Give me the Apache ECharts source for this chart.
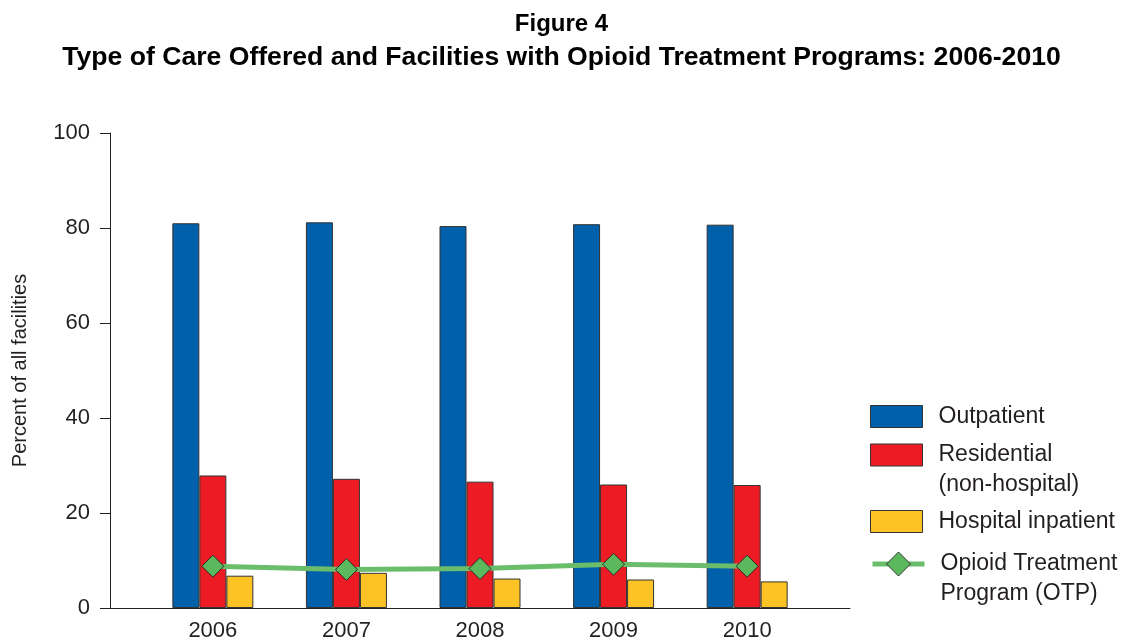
<!DOCTYPE html>
<html>
<head>
<meta charset="utf-8">
<script src="https://cdn.jsdelivr.net/npm/echarts@6/dist/echarts.min.js"></script>
<style>
  html, body { margin: 0; padding: 0; background: #fff; }
  #chart { width: 1123px; height: 642px; }
</style>
</head>
<body>
<div id="chart"></div>
<script>
// values (percent of all facilities)
const years = [2006, 2007, 2008, 2009, 2010];
const outpatient = [81.0, 81.2, 80.4, 80.8, 80.7];
const residential = [27.9, 27.2, 26.6, 26.0, 25.9];
const hospital = [6.8, 7.4, 6.2, 6.0, 5.6];
const otp = [8.8, 8.1, 8.3, 9.2, 8.8];
const yTicks = [0, 20, 40, 60, 80, 100];

const pairs = vals => years.map((y, i) => [y, vals[i]]);

const font = 'Liberation Sans';
const ink = '#231f20';

var chart = echarts.init(document.getElementById('chart'));

// one legend box per entry so the uneven spacing can be matched.
// two-line labels get an empty first line so the icon sits on the first text line
function legendAt(name, top, twoLines, extra) {
  return Object.assign({
    data: [name],
    left: 870,
    top: top,
    padding: 0,
    itemWidth: 52,
    itemHeight: 22,
    icon: 'rect',
    selectedMode: false,
    formatter: function (n) {
      var lines = n.split('\n').map(function (s) { return ' \u2009' + s; });
      return (twoLines ? '\n' : '') + lines.join('\n');
    },
    textStyle: {
      fontFamily: font,
      fontSize: 23,
      color: ink,
      lineHeight: twoLines ? 30 : 23
    },
    itemStyle: { borderColor: '#333', borderWidth: 1 }
  }, extra || {});
}

var option = {
  backgroundColor: '#fff',
  animation: false,
  title: {
    text: '{a|Figure 4}\n{b|Type of Care Offered and Facilities with Opioid Treatment Programs: 2006-2010}',
    left: 'center',
    top: 2,
    textStyle: {
      fontFamily: font,
      fontWeight: 'bold',
      color: '#000',
      align: 'center',
      rich: {
        a: { fontFamily: font, fontSize: 24, fontWeight: 'bold', color: '#000', lineHeight: 34, align: 'center' },
        b: { fontFamily: font, fontSize: 26.6, fontWeight: 'bold', color: '#000', lineHeight: 34, align: 'center' }
      }
    }
  },
  legend: [
    legendAt('Outpatient', 405, false),
    legendAt('Residential\n(non-hospital)', 410, true),
    legendAt('Hospital inpatient', 510, false),
    legendAt('Opioid Treatment\nProgram (OTP)', 519, true, {
      icon: null,
      itemHeight: 30,
      lineStyle: { width: 5, color: '#6abd6a' }
    })
  ],
  grid: { left: 110, right: 273, top: 133, bottom: 34, containLabel: false, outerBoundsMode: 'none' },
  xAxis: {
    type: 'value',
    min: 2005.23,
    max: 2010.77,
    splitLine: { show: false },
    axisTick: { show: false },
    axisLine: { lineStyle: { color: ink, width: 1 } },
    axisLabel: {
      customValues: years,
      formatter: function (v) { return String(v); },
      fontFamily: font,
      fontSize: 22,
      color: ink,
      margin: 12
    }
  },
  yAxis: {
    type: 'value',
    min: 0,
    max: 100,
    interval: 20,
    name: 'Percent of all facilities',
    nameLocation: 'middle',
    nameGap: 80,
    nameTextStyle: { fontFamily: font, fontSize: 20, color: ink },
    splitLine: { show: false },
    axisLine: { show: true, lineStyle: { color: ink, width: 1 } },
    axisTick: { show: true, length: 10, lineStyle: { color: ink } },
    axisLabel: {
      customValues: yTicks,
      fontFamily: font,
      fontSize: 22,
      color: ink,
      margin: 20
    }
  },
  series: [
    {
      name: 'Outpatient',
      type: 'bar',
      barWidth: 27,
      barGap: '0%',
      data: pairs(outpatient),
      itemStyle: { color: '#0060aa', borderColor: '#333', borderWidth: 1 }
    },
    {
      name: 'Residential\n(non-hospital)',
      type: 'bar',
      barWidth: 27,
      barGap: '0%',
      data: pairs(residential),
      itemStyle: { color: '#ed1c24', borderColor: '#333', borderWidth: 1 }
    },
    {
      name: 'Hospital inpatient',
      type: 'bar',
      barWidth: 27,
      barGap: '0%',
      data: pairs(hospital),
      itemStyle: { color: '#fdc223', borderColor: '#333', borderWidth: 1 }
    },
    {
      name: 'Opioid Treatment\nProgram (OTP)',
      type: 'line',
      data: pairs(otp),
      z: 5,
      symbol: 'diamond',
      symbolSize: 22,
      showAllSymbol: true,
      lineStyle: { color: '#6abd6a', width: 5 },
      itemStyle: { color: '#5cb85c', borderColor: '#2a2a2a', borderWidth: 1 }
    }
  ]
};

chart.setOption(option);
</script>
</body>
</html>
